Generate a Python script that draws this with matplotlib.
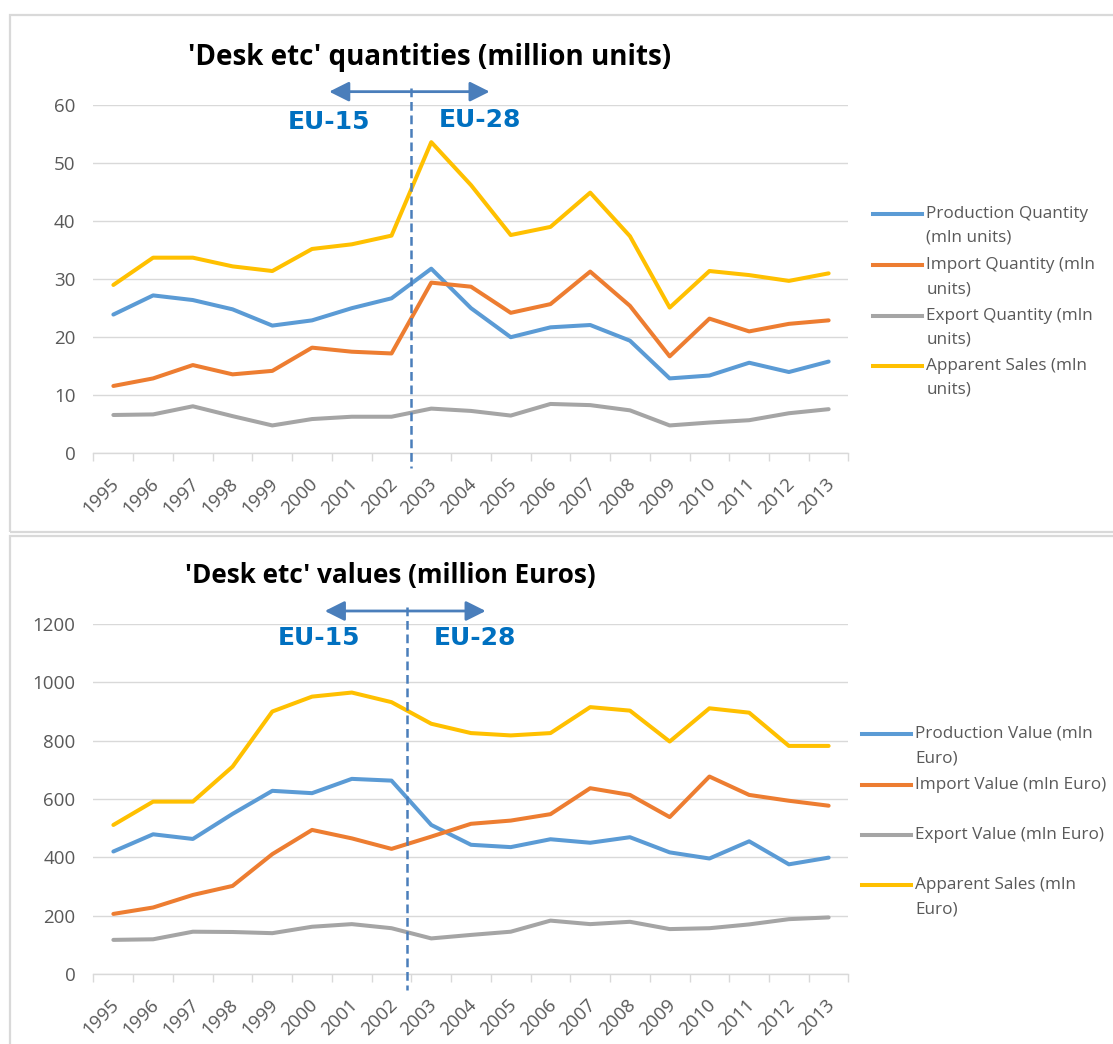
import matplotlib
matplotlib.use("Agg")
import numpy as np
import matplotlib.pyplot as plt
import matplotlib.transforms as mtransforms
from matplotlib.lines import Line2D
from matplotlib.patches import Rectangle

plt.rcParams['font.family'] = ['Open Sans', 'DejaVu Sans']

years = [str(y) for y in range(1995, 2014)]

# quantities (million units)
prod_qty = [23.9, 27.2, 26.4, 24.8, 22.0, 22.9, 25.0, 26.7, 31.8, 25.0, 20.0, 21.7, 22.1, 19.4, 12.9, 13.4, 15.6, 14.0, 15.8]
imp_qty = [11.6, 12.9, 15.2, 13.6, 14.2, 18.2, 17.5, 17.2, 29.4, 28.7, 24.2, 25.7, 31.3, 25.4, 16.7, 23.2, 21.0, 22.3, 22.9]
exp_qty = [6.6, 6.7, 8.1, 6.4, 4.8, 5.9, 6.3, 6.3, 7.7, 7.3, 6.5, 8.5, 8.3, 7.4, 4.8, 5.3, 5.7, 6.9, 7.6]
sales_qty = [29.0, 33.7, 33.7, 32.2, 31.4, 35.2, 36.0, 37.5, 53.6, 46.2, 37.6, 39.0, 44.9, 37.4, 25.1, 31.4, 30.7, 29.7, 31.0]

# values (million Euro)
prod_val = [420, 479, 463, 549, 628, 620, 669, 663, 511, 443, 435, 462, 450, 469, 417, 396, 455, 376, 399]
imp_val = [206, 228, 271, 302, 411, 494, 465, 429, 471, 515, 526, 548, 637, 614, 538, 677, 614, 594, 577]
exp_val = [117, 119, 145, 144, 140, 162, 171, 157, 122, 134, 145, 183, 171, 179, 154, 157, 170, 188, 194]
sales_val = [511, 591, 591, 711, 900, 951, 965, 932, 858, 826, 818, 826, 915, 903, 797, 911, 896, 782, 782]

qty_labels = ["Production Quantity\n(mln units)", "Import Quantity (mln\nunits)",
              "Export Quantity (mln\nunits)", "Apparent Sales (mln\nunits)"]
val_labels = ["Production Value (mln\nEuro)", "Import Value (mln Euro)",
              "Export Value (mln Euro)", "Apparent Sales (mln\nEuro)"]

colors = ['#5B9BD5', '#ED7D31', '#A5A5A5', '#FFC000']
grid_c = '#D9D9D9'
text_c = '#595959'
eu_c = '#0070C0'
mark_c = '#4A7EBB'

W, H = 1113, 1044
fig = plt.figure(figsize=(W / 100, H / 100), dpi=100)


def fx(p):
    return p / W


def fy(p):
    return 1 - p / H


# panel frames
for top, bottom in [(15, 532), (536, 1060)]:
    fig.add_artist(Rectangle((fx(10), fy(bottom)), fx(1120), (bottom - top) / H,
                             transform=fig.transFigure, fill=False,
                             edgecolor=grid_c, lw=1.6))


def panel(top_px, bottom_px, series, labels, ymax, ystep, title, title_xy,
          title_size, split_x, dash_lim, arrow, eu15, eu28, leg):
    ax = fig.add_axes([fx(93.5), fy(bottom_px), (848.5 - 93.5) / W,
                       (bottom_px - top_px) / H])
    x = np.arange(len(years))
    for vals, c in zip(series, colors):
        ax.plot(x, vals, color=c, lw=2.9, solid_joinstyle='round',
                solid_capstyle='round', clip_on=False, zorder=3)

    ax.set_xlim(-0.5, len(years) - 0.5)
    ax.set_ylim(0, ymax)
    ax.set_yticks(np.arange(0, ymax + 1, ystep))
    ax.yaxis.grid(True, color=grid_c, lw=1)
    ax.set_axisbelow(True)
    for s in ['top', 'right', 'left']:
        ax.spines[s].set_visible(False)
    ax.spines['bottom'].set_color(grid_c)
    ax.spines['bottom'].set_linewidth(1)

    ax.tick_params(axis='y', length=0, pad=13, labelsize=13.5, labelcolor=text_c)
    ax.set_xticks(x)
    ax.set_xticklabels(years, rotation=45, ha='right', va='center',
                       rotation_mode='anchor')
    ax.tick_params(axis='x', which='major', length=0, pad=20, labelsize=13.5,
                   labelcolor=text_c)
    ax.set_xticks(np.arange(-0.5, len(years), 1), minor=True)
    ax.tick_params(axis='x', which='minor', length=5.5, width=1, color=grid_c)
    shift = mtransforms.ScaledTranslation(3 / 100, 0, fig.dpi_scale_trans)
    for lab in ax.get_xticklabels():
        lab.set_transform(lab.get_transform() + shift)

    # EU-15 / EU-28 split marker
    ax.plot([split_x, split_x], dash_lim, color=mark_c, lw=1.8,
            ls=(0, (3.5, 1.9)), clip_on=False, zorder=4)
    ax.annotate('', xy=(arrow[0], arrow[2]), xytext=(arrow[1], arrow[2]),
                arrowprops=dict(arrowstyle='<|-|>', color=mark_c, lw=2,
                                mutation_scale=30, shrinkA=0, shrinkB=0),
                annotation_clip=False)
    for txt, pos in [('EU-15', eu15), ('EU-28', eu28)]:
        ax.text(pos[0], pos[1], txt, ha='center', va='center', color=eu_c,
                fontsize=18, fontweight='bold', family='DejaVu Sans',
                clip_on=False)

    fig.text(fx(title_xy[0]), fy(title_xy[1]), title, fontsize=title_size,
             fontweight='bold', color='black', ha='left', va='center')

    # legend, line beside the first text row as in the spreadsheet layout
    lx0, lx1, tx, rows, gap = leg
    for lab, c, ry in zip(labels, colors, rows):
        fig.add_artist(Line2D([fx(lx0), fx(lx1)], [fy(ry), fy(ry)], color=c,
                              lw=2.9, transform=fig.transFigure))
        for i, part in enumerate(lab.split('\n')):
            fig.text(fx(tx), fy(ry + i * gap), part, fontsize=12.3,
                     color=text_c, ha='left', va='center')
    return ax


panel(105, 453.3, [prod_qty, imp_qty, exp_qty, sales_qty], qty_labels,
      60, 10, "'Desk etc' quantities (million units)", (187.5, 58), 20,
      7.48, (62.9, -2.5), (5.43, 9.47, 62.3), (5.42, 57.0), (9.22, 57.5),
      (873, 922, 926.5, [214, 265.3, 316, 366], 24))

panel(624, 974, [prod_val, imp_val, exp_val, sales_val], val_labels,
      1200, 200, "'Desk etc' values (million Euros)", (185, 576), 18.8,
      7.4, (1259, -55), (5.32, 9.37, 1244.6), (5.18, 1152), (9.09, 1151),
      (861.7, 911, 915, [734, 785, 835, 885], 24.3))

fig.savefig('out.png', dpi=100)
